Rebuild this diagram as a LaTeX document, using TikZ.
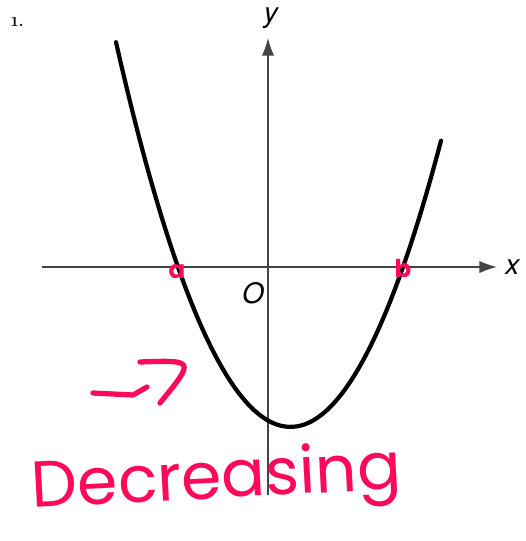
\documentclass[tikz,border=0pt]{standalone}
\usepackage{fontspec}
\setsansfont{TeX Gyre Heros}
\newfontfamily\manofont{Poppins}
\usetikzlibrary{arrows.meta,positioning}
\definecolor{rosa}{HTML}{FF0A5A}
\definecolor{gris}{HTML}{444444}

\begin{document}
\begin{tikzpicture}[x=0.02cm,y=-0.02cm,
  eje/.style={draw=gris,line width=0.9pt,-{Latex[length=10pt,width=7pt]}},
  curva/.style={line width=2.4pt,line cap=round},
  etiqueta/.style={font=\sffamily\itshape\fontsize{16}{16}\selectfont,inner sep=0pt},
  marca/.style={text=rosa,font=\manofont\bfseries\fontsize{14}{14}\selectfont,inner sep=0pt},
  trazo/.style={draw=rosa,line width=3pt,line cap=round,line join=round}
]
\useasboundingbox (0,0) rectangle (525,541);
\coordinate (xini) at (42,267);
\coordinate (xfin) at (497,267);
\coordinate (yini) at (268,495);
\coordinate (yfin) at (268,38);
\draw[eje] (xini) -- (xfin);
\draw[eje] (yini) -- (yfin);
\node[etiqueta,anchor=west] (ex) at (505,267) {x};
\node[etiqueta] (ye) at (271,18) {y};
\node[etiqueta] (origen) at (253,293) {O};
\node[font=\bfseries\fontsize{8}{9}\selectfont] (num) at (17,22) {1.};
\draw[curva] plot[domain=116:441,samples=80,smooth] (\x,{267-0.01264*(\x-178)*(\x-403)});
% anotaciones a mano
\node[marca] (raiza) at (177,272) {a};
\node[marca] (raizb) at (403,268) {b};
\draw[trazo] (93,393) -- (133,395) -- (147,387);
\draw[trazo] (140,362) .. controls (195,360) .. (160,403);
\node[text=rosa,font=\manofont\fontsize{37}{37}\selectfont,rotate=3,anchor=south west] (texto) at (28,532) {Decreasing};
\end{tikzpicture}
\end{document}
